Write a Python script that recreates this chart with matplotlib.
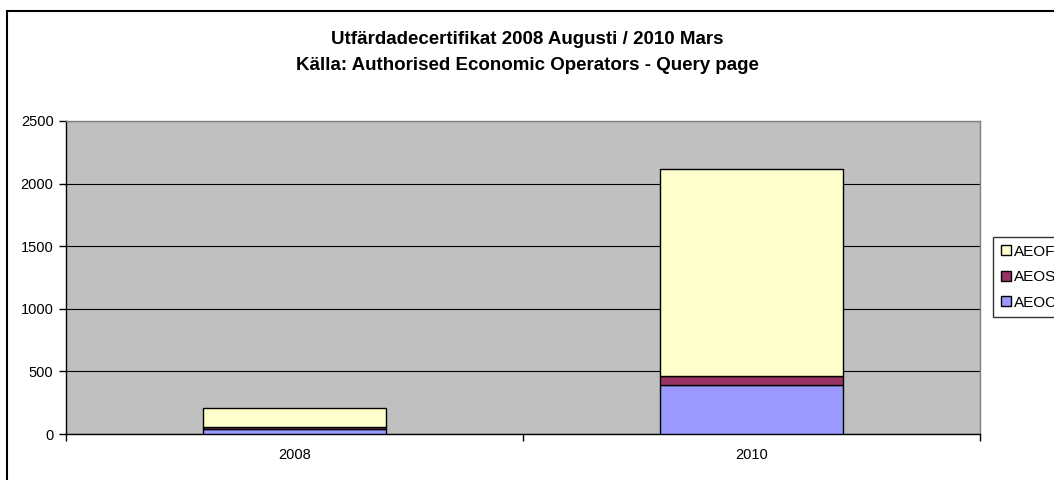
import matplotlib.pyplot as plt
from matplotlib.patches import Rectangle
import numpy as np

plt.rcParams['font.family'] = ['Liberation Sans', 'DejaVu Sans']

years = ['2008', '2010']
aeoc = [42, 390]
aeos = [10, 72]
aeof = [156, 1658]
yticks = [0, 500, 1000, 1500, 2000, 2500]

fig = plt.figure(figsize=(10.54, 4.8), dpi=100)
ax = fig.add_axes([66 / 1054, 1 - 434 / 480, 914 / 1054, 313 / 480])
ax.set_facecolor('#c0c0c0')

x = np.arange(len(years))
w = 0.4
b1 = np.array(aeoc)
b2 = b1 + np.array(aeos)
ax.bar(x, aeoc, w, color='#9999ff', edgecolor='black', linewidth=1, label='AEOC', zorder=3)
ax.bar(x, aeos, w, bottom=b1, color='#993366', edgecolor='black', linewidth=1, label='AEOS', zorder=3)
ax.bar(x, aeof, w, bottom=b2, color='#ffffcc', edgecolor='black', linewidth=1, label='AEOF', zorder=3)

ax.set_xlim(-0.5, 1.5)
ax.set_ylim(0, 2500)
ax.set_yticks(yticks)
ax.yaxis.grid(True, color='black', linewidth=0.8, zorder=0)
ax.set_axisbelow(True)
ax.set_xticks(x)
ax.set_xticklabels(years)
ax.set_xticks([-0.5, 0.5, 1.5], minor=True)
ax.tick_params(axis='x', which='major', length=0, pad=10, labelsize=10.5)
ax.tick_params(axis='x', which='minor', length=5, width=1, direction='out')
ax.tick_params(axis='y', length=5, width=1, labelsize=10.5, pad=4)
for s in ['left', 'bottom']:
    ax.spines[s].set_color('black')
    ax.spines[s].set_linewidth(1)
for s in ['top', 'right']:
    ax.spines[s].set_color('#808080')
    ax.spines[s].set_linewidth(1)

# legend sits partly outside the canvas, as in the original export
handles, labels = ax.get_legend_handles_labels()
leg = fig.legend(handles[::-1], labels[::-1], loc='upper left',
                 bbox_to_anchor=(993 / 1054, 1 - 237 / 480), frameon=True,
                 fontsize=11, handlelength=0.65, handleheight=0.65,
                 handletextpad=0.25, labelspacing=0.75, borderpad=0.5,
                 fancybox=False, edgecolor='black', borderaxespad=0)
leg.get_frame().set_linewidth(1)

fig.text(0.5, 1 - 40 / 480, 'Utfärdadecertifikat 2008 Augusti / 2010 Mars',
         ha='center', va='center', fontsize=13.5, fontweight='bold')
fig.text(0.5, 1 - 66 / 480, 'Källa: Authorised Economic Operators - Query page',
         ha='center', va='center', fontsize=13.5, fontweight='bold')

fig.patches.append(Rectangle((7 / 1054, -0.1), 1.2, 1 - 11 / 480 + 0.1,
                             transform=fig.transFigure, fill=False,
                             edgecolor='black', linewidth=1.5))

plt.savefig('out.png', dpi=100)
